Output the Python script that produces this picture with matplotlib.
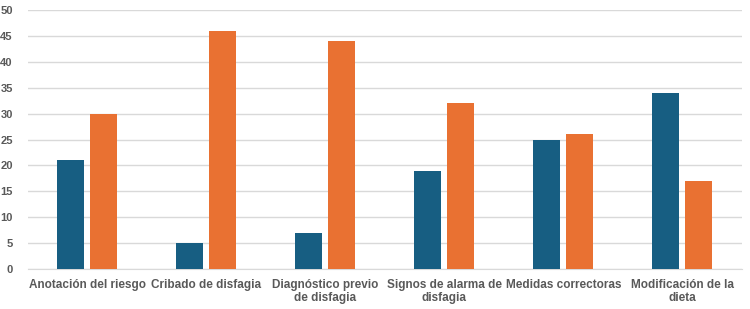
import matplotlib.pyplot as plt
import numpy as np

categories = ["Anotación del riesgo", "Cribado de disfagia", "Diagnóstico previo\nde disfagia",
              "Signos de alarma de\ndisfagia", "Medidas correctoras", "Modificación de la\ndieta"]
serie_azul = [21, 5, 7, 19, 25, 34]
serie_naranja = [30, 46, 44, 32, 26, 17]
yticks = [0, 5, 10, 15, 20, 25, 30, 35, 40, 45, 50]

plt.rcParams['font.family'] = ['Liberation Sans', 'DejaVu Sans']

fig = plt.figure(figsize=(7.5, 3.09), dpi=100)
ax = fig.add_axes([0.0373, 0.129, 0.952, 0.839])

x = np.arange(len(categories))
w = 0.227
ax.bar(x - 0.146, serie_azul, width=w, color='#175E82', zorder=3)
ax.bar(x + 0.131, serie_naranja, width=w, color='#E97132', zorder=3)

ax.set_xlim(-0.5, len(categories) - 0.5)
ax.set_ylim(0, 50)
ax.set_yticks(yticks)
ax.set_xticks(x)
ax.set_xticklabels(categories, fontsize=8.5, fontweight='bold', color='#595959', linespacing=1.15)
ax.tick_params(axis='y', labelsize=8, labelcolor='#595959', length=0, pad=11)
ax.tick_params(axis='x', length=0, pad=7)
for lbl in ax.get_yticklabels():
    lbl.set_fontweight('bold')

ax.grid(axis='y', color='#D9D9D9', linewidth=1, zorder=0)
for s in ['top', 'right', 'left']:
    ax.spines[s].set_visible(False)
ax.spines['bottom'].set_color('#D9D9D9')

fig.savefig('out.png', dpi=100)
